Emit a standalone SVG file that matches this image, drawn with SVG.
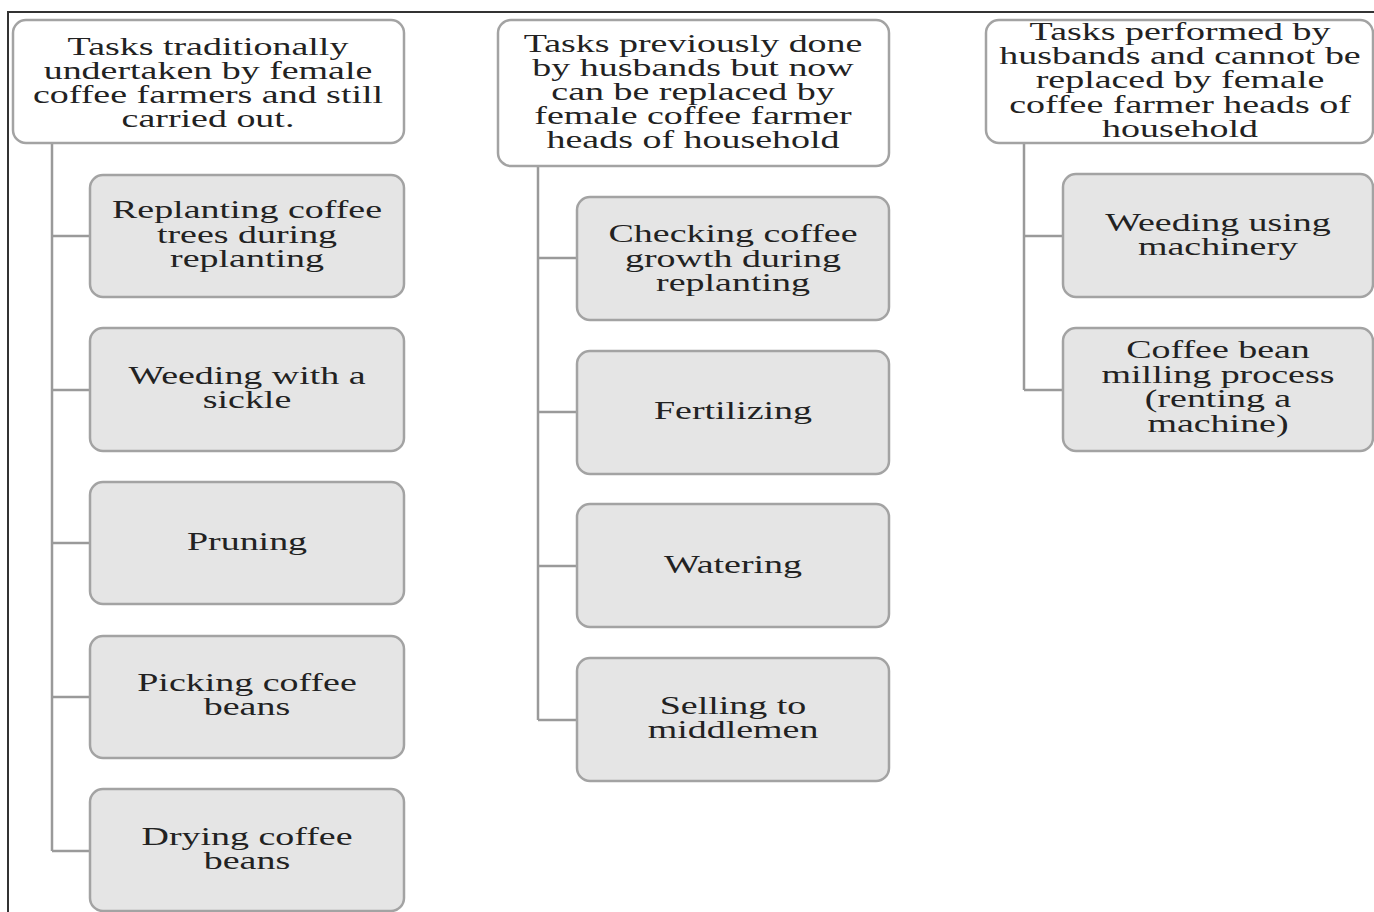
<svg xmlns="http://www.w3.org/2000/svg" width="1374" height="912" viewBox="0 0 1374 912">
<style>
.hd{fill:#ffffff;stroke:#a3a3a3;stroke-width:2.5}
.ch{fill:#e5e5e5;stroke:#a3a3a3;stroke-width:2.5}
.t{font-family:"Liberation Serif","Times New Roman",serif;font-size:26px;fill:#222;text-anchor:middle}
.cn{fill:none;stroke:#9a9a9a;stroke-width:2.5}
</style>
<rect width="1374" height="912" fill="#ffffff"/>
<path d="M8,912 V12 H1374" fill="none" stroke="#333" stroke-width="2"/>
<g id="connectors">
<path class="cn" d="M52,143 V851 M52,236 H90 M52,390 H90 M52,543 H90 M52,697 H90 M52,851 H90"/>
<path class="cn" d="M538,166 V720 M538,258 H577 M538,412 H577 M538,566 H577 M538,720 H577"/>
<path class="cn" d="M1024,143 V390 M1024,236 H1063 M1024,390 H1063"/>
</g>
<g id="h1"><rect class="hd" x="13" y="20" width="391" height="123" rx="13"/>
<text class="t" transform="translate(208,0) scale(1.46,1)"><tspan x="0" y="55">Tasks traditionally</tspan><tspan x="0" y="79">undertaken by female</tspan><tspan x="0" y="103">coffee farmers and still</tspan><tspan x="0" y="127">carried out.</tspan></text></g>
<g id="c1a"><rect class="ch" x="90" y="175" width="314" height="122" rx="13"/>
<text class="t" transform="translate(247,0) scale(1.46,1)"><tspan x="0" y="218">Replanting coffee</tspan><tspan x="0" y="243">trees during</tspan><tspan x="0" y="267">replanting</tspan></text></g>
<g id="c1b"><rect class="ch" x="90" y="328" width="314" height="123" rx="13"/>
<text class="t" transform="translate(247,0) scale(1.46,1)"><tspan x="0" y="384">Weeding with a</tspan><tspan x="0" y="408">sickle</tspan></text></g>
<g id="c1c"><rect class="ch" x="90" y="482" width="314" height="122" rx="13"/>
<text class="t" transform="translate(247,0) scale(1.46,1)"><tspan x="0" y="550">Pruning</tspan></text></g>
<g id="c1d"><rect class="ch" x="90" y="636" width="314" height="122" rx="13"/>
<text class="t" transform="translate(247,0) scale(1.46,1)"><tspan x="0" y="691">Picking coffee</tspan><tspan x="0" y="715">beans</tspan></text></g>
<g id="c1e"><rect class="ch" x="90" y="789" width="314" height="122" rx="13"/>
<text class="t" transform="translate(247,0) scale(1.46,1)"><tspan x="0" y="845">Drying coffee</tspan><tspan x="0" y="869">beans</tspan></text></g>
<g id="h2"><rect class="hd" x="498" y="20" width="391" height="146" rx="13"/>
<text class="t" transform="translate(693,0) scale(1.46,1)"><tspan x="0" y="52">Tasks previously done</tspan><tspan x="0" y="76">by husbands but now</tspan><tspan x="0" y="100">can be replaced by</tspan><tspan x="0" y="124">female coffee farmer</tspan><tspan x="0" y="148">heads of household</tspan></text></g>
<g id="c2a"><rect class="ch" x="577" y="197" width="312" height="123" rx="13"/>
<text class="t" transform="translate(733,0) scale(1.46,1)"><tspan x="0" y="242">Checking coffee</tspan><tspan x="0" y="267">growth during</tspan><tspan x="0" y="291">replanting</tspan></text></g>
<g id="c2b"><rect class="ch" x="577" y="351" width="312" height="123" rx="13"/>
<text class="t" transform="translate(733,0) scale(1.46,1)"><tspan x="0" y="419">Fertilizing</tspan></text></g>
<g id="c2c"><rect class="ch" x="577" y="504" width="312" height="123" rx="13"/>
<text class="t" transform="translate(733,0) scale(1.46,1)"><tspan x="0" y="573">Watering</tspan></text></g>
<g id="c2d"><rect class="ch" x="577" y="658" width="312" height="123" rx="13"/>
<text class="t" transform="translate(733,0) scale(1.46,1)"><tspan x="0" y="714">Selling to</tspan><tspan x="0" y="738">middlemen</tspan></text></g>
<g id="h3"><rect class="hd" x="986" y="20" width="387" height="123" rx="13"/>
<text class="t" transform="translate(1180,0) scale(1.46,1)"><tspan x="0" y="40">Tasks performed by</tspan><tspan x="0" y="64">husbands and cannot be</tspan><tspan x="0" y="88">replaced by female</tspan><tspan x="0" y="113">coffee farmer heads of</tspan><tspan x="0" y="137">household</tspan></text></g>
<g id="c3a"><rect class="ch" x="1063" y="174" width="310" height="123" rx="13"/>
<text class="t" transform="translate(1218,0) scale(1.46,1)"><tspan x="0" y="231">Weeding using</tspan><tspan x="0" y="255">machinery</tspan></text></g>
<g id="c3b"><rect class="ch" x="1063" y="328" width="310" height="123" rx="13"/>
<text class="t" transform="translate(1218,0) scale(1.46,1)"><tspan x="0" y="358">Coffee bean</tspan><tspan x="0" y="383">milling process</tspan><tspan x="0" y="407">(renting a</tspan><tspan x="0" y="432">machine)</tspan></text></g>
</svg>
